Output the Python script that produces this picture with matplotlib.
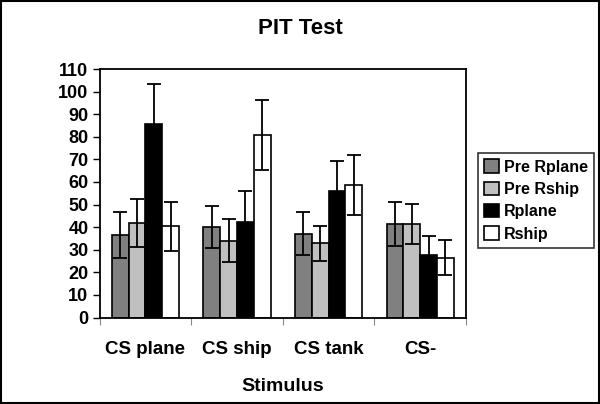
import numpy as np
import matplotlib
matplotlib.use('Agg')
import matplotlib.pyplot as plt
from matplotlib.patches import Rectangle

plt.rcParams['font.family'] = ['Liberation Sans', 'DejaVu Sans']
plt.rcParams['font.weight'] = 'bold'

# Data
categories = ['CS plane', 'CS ship', 'CS tank', 'CS-']
series = ['Pre Rplane', 'Pre Rship', 'Rplane', 'Rship']
colors = ['#808080', '#c0c0c0', '#000000', '#ffffff']

pre_rplane = [36.6, 40.0, 37.1, 41.5]
pre_rship = [41.8, 34.0, 32.8, 41.5]
rplane = [85.8, 42.4, 55.8, 27.8]
rship = [40.3, 80.8, 58.8, 26.4]

pre_rplane_err = [10.3, 9.3, 9.5, 9.7]
pre_rship_err = [10.6, 9.5, 7.8, 8.8]
rplane_err = [17.4, 13.6, 13.6, 8.1]
rship_err = [10.8, 15.3, 13.3, 7.7]

values = [pre_rplane, pre_rship, rplane, rship]
errors = [pre_rplane_err, pre_rship_err, rplane_err, rship_err]

fig = plt.figure(figsize=(6.0, 4.04), dpi=100)
ax = fig.add_axes([99.5 / 600, 1 - 317.5 / 404, (466 - 99.5) / 600, (317.5 - 69) / 404])

x = np.arange(len(categories))
width = 1 / 5.45
for i, (vals, errs) in enumerate(zip(values, errors)):
    pos = x + (i - 1.5) * width
    ax.bar(pos, vals, width, color=colors[i], edgecolor='black', linewidth=1.2,
           label=series[i], zorder=2)
    ax.errorbar(pos, vals, yerr=errs, fmt='none', ecolor='black', elinewidth=1.3,
                capsize=5, capthick=1.3, zorder=3)

ax.set_xlim(-0.5, len(categories) - 0.5)
ax.set_ylim(0, 110)
ax.set_yticks(range(0, 111, 10))
ax.tick_params(axis='y', direction='out', length=5, width=1, labelsize=13, pad=3)

ax.set_xticks(x)
ax.set_xticklabels(categories, fontsize=13.5, fontweight='bold')
ax.tick_params(axis='x', which='major', length=0, pad=17)
ax.set_xticks(np.arange(-0.5, len(categories)), minor=True)
ax.tick_params(axis='x', which='minor', direction='out', length=5, width=0.8, color='#888888')

for side in ['top', 'right', 'left', 'bottom']:
    ax.spines[side].set_linewidth(1.3)
    ax.spines[side].set_color('black')

ax.set_xlabel('Stimulus', fontsize=14, fontweight='bold', labelpad=14)
fig.text(0.5, 1 - 28 / 404, 'PIT Test', ha='center', va='center', fontsize=16, fontweight='bold')

leg = fig.legend(loc='upper left', bbox_to_anchor=(478 / 600, 1 - 153 / 404),
                 frameon=True, fancybox=False, edgecolor='black', fontsize=11.5,
                 handlelength=0.9, handleheight=0.9, handletextpad=0.3,
                 labelspacing=0.45, borderpad=0.4, borderaxespad=0)
leg.get_frame().set_linewidth(1.2)

fig.patches.append(Rectangle((0.002, 0.003), 0.996, 0.994, transform=fig.transFigure,
                             fill=False, edgecolor='black', linewidth=1.5))

fig.savefig('out.png', dpi=100, facecolor='white')
